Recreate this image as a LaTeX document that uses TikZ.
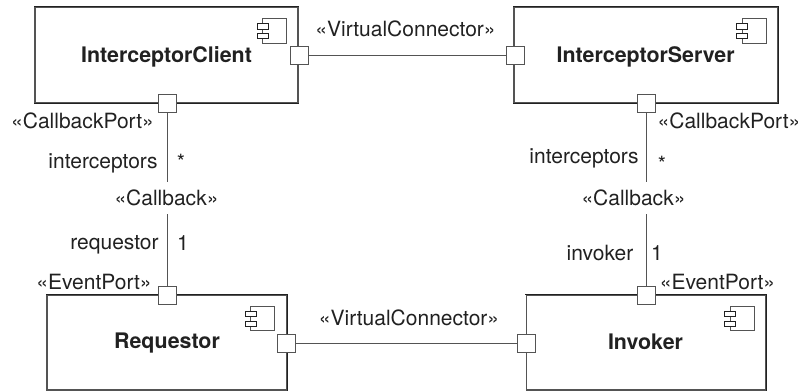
\documentclass[tikz,border=0pt]{standalone}
\usepackage{fontspec}
\setmainfont{TeX Gyre Heros}
\definecolor{ink}{gray}{0.13}
\definecolor{soft}{gray}{0.33}
\tikzset{
  comp/.style={draw=soft,line width=1.05pt,fill=white,inner sep=0pt},
  heavy/.style={draw=ink,line width=1.6pt,line cap=rect},
  port/.style={draw=soft,line width=1pt,fill=white,minimum size=18pt,inner sep=0pt},
  lbl/.style={inner sep=0pt,font=\fontsize{21}{24}\selectfont,text=ink},
  ttl/.style={inner sep=0pt,font=\fontsize{21.4}{24}\selectfont\bfseries,text=ink},
  wire/.style={draw=soft,line width=1pt},
  compicon/.pic={
    \draw[draw=soft,line width=0.95pt] (-24,0) rectangle (0,24.5);
    \draw[draw=ink,line width=0.9pt,fill=white] (-29.4,4.7) rectangle (-18.7,10.5);
    \draw[draw=ink,line width=0.9pt,fill=white] (-29.4,14.7) rectangle (-18.7,20);
  }
}
\begin{document}
\begin{tikzpicture}[x=1pt,y=-1pt]
\useasboundingbox (0,0) rectangle (799,391);
% components
\node[comp,minimum width=263pt,minimum height=96pt] (client) at (166.5,55) {};
\node[comp,minimum width=264pt,minimum height=96pt] (server) at (646,55) {};
\node[comp,minimum width=240pt,minimum height=95pt] (requestor) at (167,342.5) {};
\node[comp,minimum width=239.5pt,minimum height=95pt] (invoker) at (646.2,342.5) {};
% heavier edges of the boxes
\draw[heavy] (client.north west) -- (client.north east);
\draw[heavy] (client.south west) -- (client.south east);
\draw[heavy] (server.north west) -- (server.north east) -- (server.south east) -- (server.south west);
\draw[heavy] (requestor.north west) -- (requestor.north east);
\draw[heavy,line width=1.2pt] (requestor.north east) -- (requestor.south east);
\draw[heavy] (invoker.north west) -- (invoker.north east) -- (invoker.south east);
% titles
\node[ttl] (tclient) at (166.5,56.5) {InterceptorClient};
\node[ttl] (tserver) at (645.6,56.5) {InterceptorServer};
\node[ttl] (trequestor) at (167,343.5) {Requestor};
\node[ttl] (tinvoker) at (645.5,341.5) {Invoker};
% icons
\pic at (286.7,18.7) {compicon};
\pic at (766,18.7) {compicon};
\pic at (274.7,306.4) {compicon};
\pic at (754.3,306.4) {compicon};
% ports
\node[port] (pcr) at (299,55) {};
\node[port] (pcb) at (167,103) {};
\node[port] (psl) at (515,55) {};
\node[port] (psb) at (646.5,103) {};
\node[port] (prt) at (167,295) {};
\node[port] (prr) at (286.5,343) {};
\node[port] (pil) at (526.5,343) {};
\node[port] (pit) at (646,295) {};
% callback labels and free ends
\node[lbl] (cbl) at (166.5,197.5) {«Callback»};
\node[lbl] (cbr) at (633.5,197.5) {«Callback»};
\coordinate (cl1) at (167,182);
\coordinate (cl2) at (167,214);
\coordinate (cr1) at (646.5,182);
\coordinate (cr2) at (646,214);
% connectors
\draw[wire] (pcr) -- (psl);
\draw[wire] (prr) -- (pil);
\draw[wire] (pcb) -- (cl1);
\draw[wire] (cl2) -- (prt);
\draw[wire] (psb) -- (cr1);
\draw[wire] (cr2) -- (pit);
% labels
\node[lbl] (vc1) at (405.5,29.2) {«VirtualConnector»};
\node[lbl] (vc2) at (409,317.5) {«VirtualConnector»};
\node[lbl] (cpl) at (82.5,121) {«CallbackPort»};
\node[lbl] (cpr) at (729,120.7) {«CallbackPort»};
\node[lbl] (il) at (103,163.7) {interceptors};
\node[lbl] (sl) at (181,162) {*};
\node[lbl] (ir) at (584,158) {interceptors};
\node[lbl] (sr) at (662,164) {*};
\node[lbl] (rq) at (114.5,245) {requestor};
\node[lbl] (one1) at (183,242.7) {1};
\node[lbl] (iv) at (600,252.5) {invoker};
\node[lbl] (one2) at (657,252.7) {1};
\node[lbl] (epl) at (94,282) {«EventPort»};
\node[lbl] (epr) at (717.5,282) {«EventPort»};
\end{tikzpicture}
\end{document}
